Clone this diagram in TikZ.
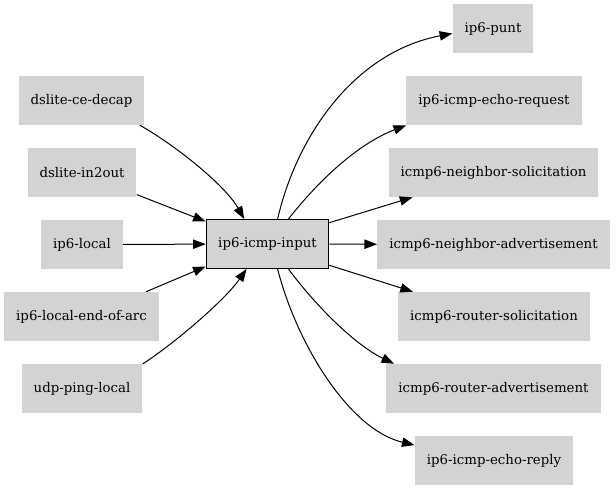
\documentclass[tikz,border=0pt]{standalone}
\usepackage{fontspec}
\setmainfont{DejaVu Serif}
\usetikzlibrary{arrows.meta}
\definecolor{NodeGray}{HTML}{D3D3D3}

\begin{document}
\begin{tikzpicture}[
  x=0.75pt, y=-0.75pt,
  >={Triangle[length=9.5pt,width=7pt]},
  graphnode/.style={
    rectangle,
    fill=NodeGray,
    minimum height=36.75pt,
    inner xsep=9pt,
    font=\fontsize{10}{12}\selectfont
  },
  mainnode/.style={graphnode,draw=black,line width=0.75pt},
  edge/.style={->,draw=black,line width=0.75pt}
]
\useasboundingbox (0,0) rectangle (616,491);

% center
\node[mainnode] (input) at (267.5,244) {ip6-icmp-input};

% incoming
\node[graphnode] (cedecap)   at (81.5,100.5) {dslite-ce-decap};
\node[graphnode] (in2out)    at (82,172.5)   {dslite-in2out};
\node[graphnode] (local)     at (82,244.5)   {ip6-local};
\node[graphnode] (endofarc)  at (81.5,316.5) {ip6-local-end-of-arc};
\node[graphnode] (pinglocal) at (82,388.5)   {udp-ping-local};

% outgoing
\node[graphnode] (punt)    at (493,28.5)    {ip6-punt};
\node[graphnode] (echoreq) at (494,100.5)   {ip6-icmp-echo-request};
\node[graphnode] (nbrsol)  at (493.5,172.5) {icmp6-neighbor-solicitation};
\node[graphnode] (nbradv)  at (493.5,244.5) {icmp6-neighbor-advertisement};
\node[graphnode] (rtrsol)  at (494,316.5)   {icmp6-router-solicitation};
\node[graphnode] (rtradv)  at (493.5,388.5) {icmp6-router-advertisement};
\node[graphnode] (echorep) at (494,460.5)   {ip6-icmp-echo-reply};

\draw[edge] (cedecap.-23) .. controls (175,145) and (225,185) .. (input.133);
\draw[edge] (in2out.-22) -- (input.160);
\draw[edge] (local) -- (input);
\draw[edge] (endofarc.21) -- (input.200);
\draw[edge] (pinglocal.22) .. controls (175,343) and (225,300) .. (input.230);

\draw[edge] (input.68) .. controls (297,135) and (355,52) .. (punt.187);
\draw[edge] (input.50) .. controls (315,185) and (355,145) .. (echoreq.south west);
\draw[edge] (input.19) -- (nbrsol.197);
\draw[edge] (input) -- (nbradv);
\draw[edge] (input.-19) -- (rtrsol.163);
\draw[edge] (input.-50) .. controls (315,305) and (355,345) .. (rtradv.166);
\draw[edge] (input.-68) .. controls (297,345) and (350,430) .. (echorep.169);
\end{tikzpicture}
\end{document}
